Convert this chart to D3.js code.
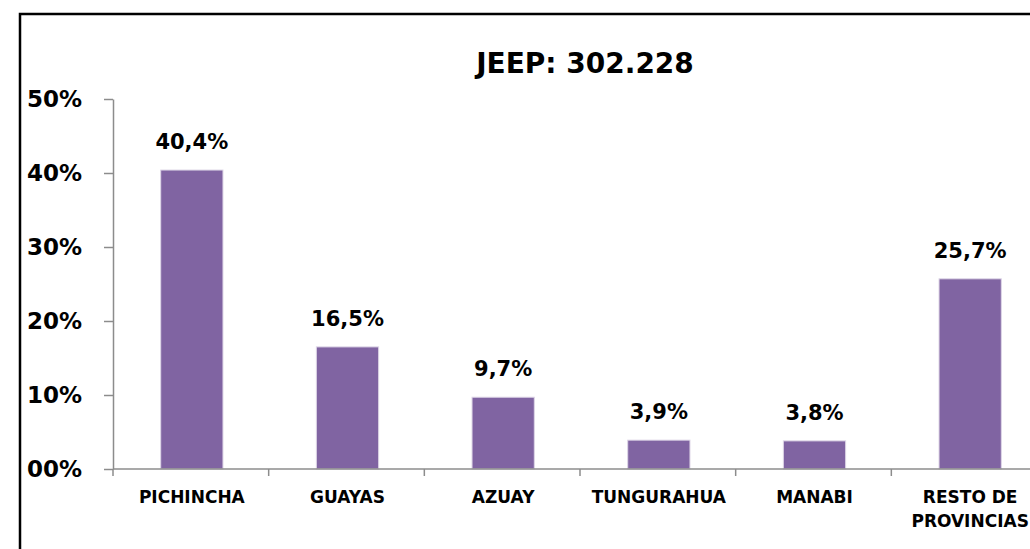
<!DOCTYPE html>
<html>
<head>
<meta charset="utf-8">
<script src="https://cdn.jsdelivr.net/npm/d3@7"></script>
<style>
  body { margin: 0; background: #fff; }
  text { font-family: "DejaVu Sans", sans-serif; font-weight: bold; fill: #000; }
</style>
</head>
<body>
<div id="chart"></div>
<script>
const title = "JEEP: 302.228";
const provincias = ["PICHINCHA", "GUAYAS", "AZUAY", "TUNGURAHUA", "MANABI", "RESTO DE PROVINCIAS"];
const porcentajes = [40.4, 16.5, 9.7, 3.9, 3.8, 25.7];
const yTicks = [0, 10, 20, 30, 40, 50];

const width = 1030, height = 549;
const plot = { left: 113, right: 1047, top: 99, bottom: 469 };

const es = d3.formatLocale({ decimal: ",", thousands: ".", grouping: [3], currency: ["", "$"] });
const fmtValue = d => es.format(".1f")(d) + "%";
const fmtTick = d => String(d).padStart(2, "0") + "%";

const svg = d3.select("#chart")
    .append("svg")
    .attr("width", width)
    .attr("height", height);

// marco del gráfico (se sale por la derecha y abajo)
svg.append("rect")
    .attr("x", 20)
    .attr("y", 14)
    .attr("width", 1100)
    .attr("height", 600)
    .attr("fill", "none")
    .attr("stroke", "#000")
    .attr("stroke-width", 2.5);

const x = d3.scaleBand()
    .domain(provincias)
    .range([plot.left + 1, plot.right + 1])
    .paddingInner(0.6)
    .paddingOuter(0.3);

const y = d3.scaleLinear()
    .domain([0, 50])
    .range([plot.bottom, plot.top]);

// título
svg.append("text")
    .attr("x", 585)
    .attr("y", 73)
    .attr("text-anchor", "middle")
    .style("font-size", "28px")
    .text(title);

// eje Y
const yAxis = svg.append("g")
    .attr("transform", `translate(${plot.left},0)`)
    .call(d3.axisLeft(y).tickValues(yTicks).tickSize(9).tickSizeOuter(0).tickFormat(fmtTick));
yAxis.select(".domain").attr("stroke", "#8c8c8c").attr("stroke-width", 1.5);
yAxis.selectAll(".tick line").attr("stroke", "#8c8c8c").attr("stroke-width", 1.5);
yAxis.selectAll(".tick text")
    .attr("x", -31)
    .style("font-size", "23px")
    .style("font-family", "DejaVu Sans, sans-serif")
    .style("font-weight", "bold")
    .attr("fill", "#000");

// barras
svg.selectAll(".bar")
    .data(porcentajes)
    .enter().append("rect")
    .attr("class", "bar")
    .attr("x", (d, i) => x(provincias[i]))
    .attr("y", d => y(d))
    .attr("width", x.bandwidth())
    .attr("height", d => y(0) - y(d))
    .attr("fill", "#8064a2")
    .attr("stroke", "#ddd5e6")
    .attr("stroke-width", 1);

// etiquetas de valor
svg.selectAll(".val")
    .data(porcentajes)
    .enter().append("text")
    .attr("class", "val")
    .attr("x", (d, i) => x(provincias[i]) + x.bandwidth() / 2)
    .attr("y", d => y(d) - 21)
    .attr("text-anchor", "middle")
    .style("font-size", "21px")
    .text(fmtValue);

// eje X
const step = x.step();
const x0 = x.range()[0] - 1;
svg.append("line")
    .attr("x1", x0).attr("x2", x0 + step * provincias.length)
    .attr("y1", y(0)).attr("y2", y(0))
    .attr("stroke", "#8c8c8c").attr("stroke-width", 1.5);
svg.selectAll(".xtick")
    .data(d3.range(provincias.length + 1))
    .enter().append("line")
    .attr("class", "xtick")
    .attr("x1", i => x0 + i * step).attr("x2", i => x0 + i * step)
    .attr("y1", y(0)).attr("y2", y(0) + 7)
    .attr("stroke", "#8c8c8c").attr("stroke-width", 1.5);

// etiquetas de categoría
const cat = svg.selectAll(".cat")
    .data(provincias)
    .enter().append("text")
    .attr("class", "cat")
    .attr("text-anchor", "middle")
    .style("font-size", "17px");
cat.each(function (d) {
    const lines = d.length > 12 ? [d.slice(0, d.lastIndexOf(" ")), d.slice(d.lastIndexOf(" ") + 1)] : [d];
    d3.select(this).selectAll("tspan")
        .data(lines)
        .enter().append("tspan")
        .attr("x", x(d) + x.bandwidth() / 2)
        .attr("y", (l, j) => 503 + j * 24)
        .text(l => l);
});
</script>
</body>
</html>
